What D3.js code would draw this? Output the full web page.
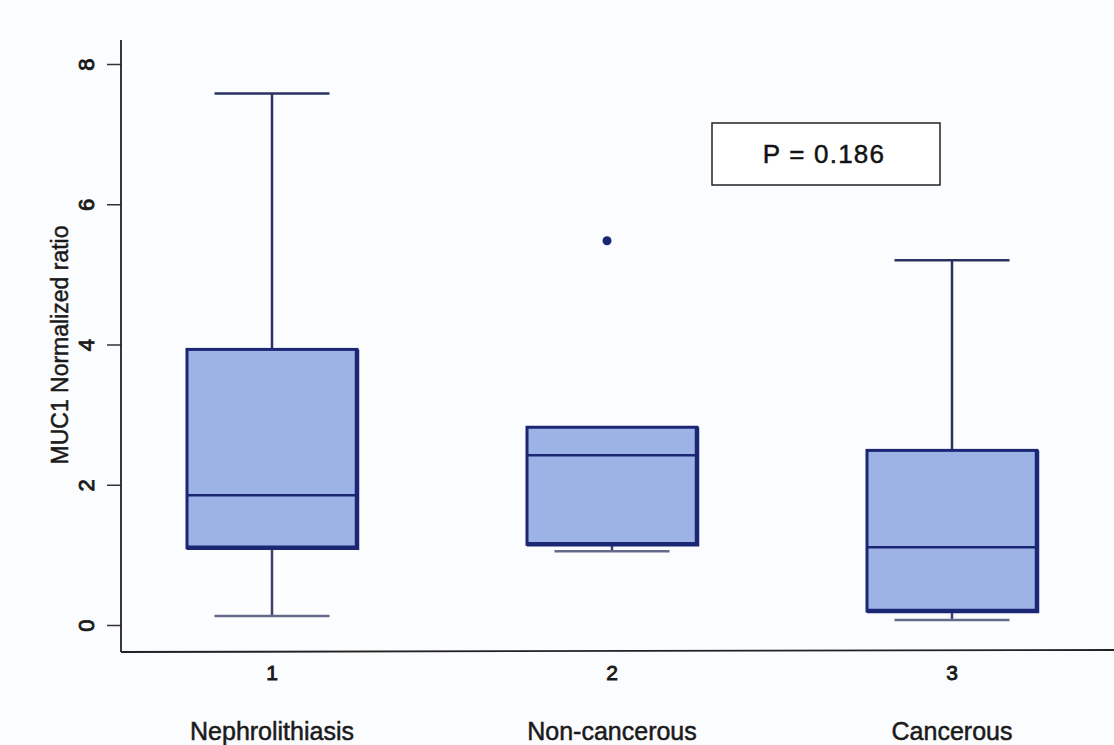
<!DOCTYPE html>
<html>
<head>
<meta charset="utf-8">
<script src="https://cdn.jsdelivr.net/npm/d3@7"></script>
<style>
  body { margin: 0; background: #fbfcfe; }
  svg { display: block; font-family: "Liberation Sans", Arial, sans-serif; }
  svg text { stroke: #1a1a1a; stroke-width: 0.5px; }
  svg text.digit { stroke-width: 0.9px; }
</style>
</head>
<body>
<div id="chart"></div>
<script>
// box plot summary
var groups = ["1", "2", "3"];
var groupNames = ["Nephrolithiasis", "Non-cancerous", "Cancerous"];
var lowerWhisker = [0.13, 1.05, 0.07];
var q1 = [1.10, 1.15, 0.20];
var median = [1.85, 2.42, 1.11];
var q3 = [3.93, 2.82, 2.49];
var upperWhisker = [7.58, 2.82, 5.20];
var outliers = [{g: "2", v: 5.48}];
var yTicks = [0, 2, 4, 6, 8];
var pText = "P = 0.186";

var width = 1114, height = 745;

var svg = d3.select("#chart").append("svg")
    .attr("width", width)
    .attr("height", height);

var x = d3.scalePoint()
    .domain(groups)
    .range([272, 952]);

var y = d3.scaleLinear()
    .domain([0, 8])
    .range([625, 64]);

var boxW = 170, capW = 115;
var navy = "#1b2774";

// axes
var yAxis = d3.axisLeft(y)
    .tickValues(yTicks)
    .tickSize(14)
    .tickPadding(6);

var gy = svg.append("g")
    .attr("transform", "translate(121,0)")
    .call(yAxis);
gy.select(".domain").remove();
gy.selectAll(".tick line").attr("stroke", "#333").attr("stroke-width", 1.5);
gy.selectAll(".tick text")
    .attr("class", "digit")
    .attr("font-size", 22)
    .attr("fill", "#1a1a1a")
    .attr("transform", "rotate(-90,-35,0)")
    .attr("x", -35)
    .attr("y", 8)
    .attr("dy", 0)
    .style("text-anchor", "middle");

svg.append("line")
    .attr("x1", 121).attr("x2", 121)
    .attr("y1", 40).attr("y2", 652)
    .attr("stroke", "#222").attr("stroke-width", 1.8);

svg.append("line")
    .attr("x1", 121).attr("x2", 1114)
    .attr("y1", 652).attr("y2", 650)
    .attr("stroke", "#222").attr("stroke-width", 1.8);

svg.append("text")
    .attr("transform", "translate(68,345) rotate(-90)")
    .attr("text-anchor", "middle")
    .attr("font-size", 23)
    .attr("fill", "#1a1a1a")
    .text("MUC1 Normalized ratio");

// x labels
svg.selectAll(".num")
    .data(groups)
    .enter().append("text")
    .attr("class", "digit")
    .attr("x", function(d) { return x(d); })
    .attr("y", 680)
    .attr("text-anchor", "middle")
    .attr("font-size", 21)
    .attr("fill", "#1a1a1a")
    .text(function(d) { return d; });

svg.selectAll(".name")
    .data(groupNames)
    .enter().append("text")
    .attr("x", function(d, i) { return x(groups[i]); })
    .attr("y", 740)
    .attr("text-anchor", "middle")
    .attr("font-size", 25)
    .attr("fill", "#1a1a1a")
    .text(function(d) { return d; });

// boxes
var boxes = svg.selectAll(".box")
    .data(groups)
    .enter().append("g")
    .attr("class", "box");

boxes.append("line")
    .attr("x1", function(d) { return x(d); })
    .attr("x2", function(d) { return x(d); })
    .attr("y1", function(d, i) { return y(upperWhisker[i]); })
    .attr("y2", function(d, i) { return y(q3[i]); })
    .attr("stroke", "#2a3262").attr("stroke-width", 2.5);

boxes.append("line")
    .attr("x1", function(d) { return x(d) - capW / 2; })
    .attr("x2", function(d) { return x(d) + capW / 2; })
    .attr("y1", function(d, i) { return y(upperWhisker[i]); })
    .attr("y2", function(d, i) { return y(upperWhisker[i]); })
    .attr("stroke", "#2a3262").attr("stroke-width", 2.5)
    .style("display", function(d, i) { return upperWhisker[i] > q3[i] ? null : "none"; });

boxes.append("line")
    .attr("x1", function(d) { return x(d); })
    .attr("x2", function(d) { return x(d); })
    .attr("y1", function(d, i) { return y(q1[i]); })
    .attr("y2", function(d, i) { return y(lowerWhisker[i]); })
    .attr("stroke", "#3a4270").attr("stroke-width", 2.5);

boxes.append("line")
    .attr("x1", function(d) { return x(d) - capW / 2; })
    .attr("x2", function(d) { return x(d) + capW / 2; })
    .attr("y1", function(d, i) { return y(lowerWhisker[i]); })
    .attr("y2", function(d, i) { return y(lowerWhisker[i]); })
    .attr("stroke", "#646a8a").attr("stroke-width", 2.5);

boxes.append("rect")
    .attr("x", function(d) { return x(d) - boxW / 2; })
    .attr("y", function(d, i) { return y(q3[i]); })
    .attr("width", boxW)
    .attr("height", function(d, i) { return y(q1[i]) - y(q3[i]); })
    .attr("fill", "#9db3e6")
    .attr("stroke", navy)
    .attr("stroke-width", 3);

// thicker right and bottom edges as in the scan
boxes.append("polyline")
    .attr("points", function(d, i) {
        var x1 = x(d) + boxW / 2, x0 = x(d) - boxW / 2;
        return x1 + "," + y(q3[i]) + " " + x1 + "," + y(q1[i]) + " " + x0 + "," + y(q1[i]);
    })
    .attr("fill", "none")
    .attr("stroke", navy)
    .attr("stroke-width", 4.5);

boxes.append("line")
    .attr("x1", function(d) { return x(d) - boxW / 2; })
    .attr("x2", function(d) { return x(d) + boxW / 2; })
    .attr("y1", function(d, i) { return y(median[i]); })
    .attr("y2", function(d, i) { return y(median[i]); })
    .attr("stroke", navy).attr("stroke-width", 2.5);

svg.selectAll(".outlier")
    .data(outliers)
    .enter().append("circle")
    .attr("cx", function(d) { return x(d.g) - 5; })
    .attr("cy", function(d) { return y(d.v); })
    .attr("r", 4.5)
    .attr("fill", navy);

// p-value box
svg.append("rect")
    .attr("x", 712).attr("y", 123)
    .attr("width", 228).attr("height", 62)
    .attr("fill", "#fff")
    .attr("stroke", "#222").attr("stroke-width", 1.5);

svg.append("text")
    .attr("x", 824).attr("y", 163)
    .attr("text-anchor", "middle")
    .attr("font-size", 26)
    .attr("letter-spacing", 1.2)
    .attr("fill", "#111")
    .text(pText);
</script>
</body>
</html>
